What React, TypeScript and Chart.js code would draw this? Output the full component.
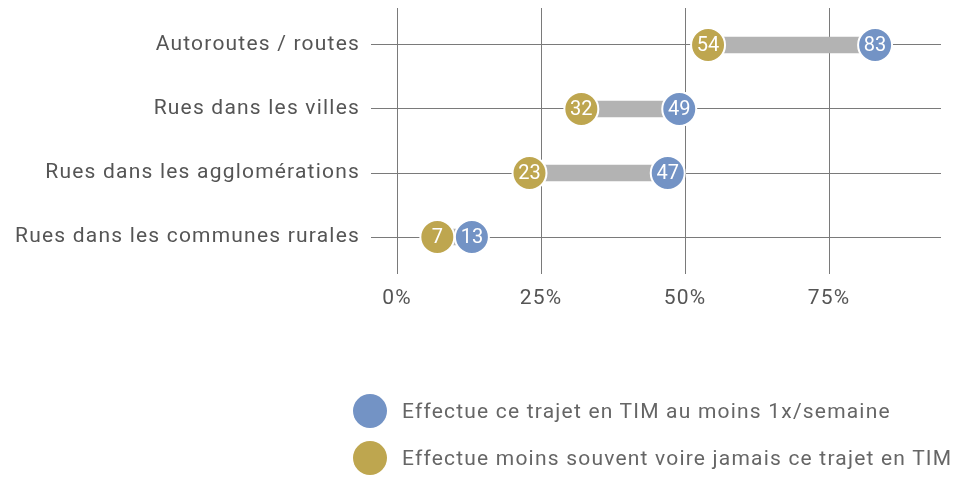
import React, { useEffect, useRef } from "react";
import { Chart, registerables } from "chart.js";

Chart.register(...registerables);

const categories = [
  "Autoroutes / routes",
  "Rues dans les villes",
  "Rues dans les agglomérations",
  "Rues dans les communes rurales",
];
const weeklyValues = [83, 49, 47, 13];
const rarelyValues = [54, 32, 23, 7];
const xTicks = [0, 25, 50, 75];
const legendLabels = [
  "Effectue ce trajet en TIM au moins 1x/semaine",
  "Effectue moins souvent voire jamais ce trajet en TIM",
];

const BLUE = "#7393C5";
const GOLD = "#BEA64F";
const BAR = "#B3B3B3";
const GRID = "#7a7a7a";
const TEXT = "#555555";
const FONT = "Roboto, 'Liberation Sans', sans-serif";
const FONT_SIZE = 21;
const SPACING = "1.2px";

const valueLabels = {
  id: "valueLabels",
  afterDatasetsDraw(chart: any) {
    const ctx = chart.ctx;
    ctx.save();
    ctx.font = `20px ${FONT}`;
    (ctx as any).letterSpacing = "0px";
    ctx.fillStyle = "#ffffff";
    ctx.textAlign = "center";
    ctx.textBaseline = "middle";
    chart.data.datasets.forEach((ds: any, i: number) => {
      if (ds.type !== "scatter") return;
      const meta = chart.getDatasetMeta(i);
      meta.data.forEach((el: any, j: number) => {
        ctx.fillText(String(ds.data[j].x), el.x, el.y + 1);
      });
    });
    ctx.restore();
  },
};

const spacingPlugin = {
  id: "spacing",
  beforeInit(chart: any) {
    (chart.ctx as any).letterSpacing = SPACING;
  },
  beforeLayout(chart: any) {
    (chart.ctx as any).letterSpacing = SPACING;
  },
  beforeDraw(chart: any) {
    (chart.ctx as any).letterSpacing = SPACING;
  },
};

export default function App() {
  const ref = useRef<HTMLCanvasElement>(null);
  useEffect(() => {
    document.body.style.margin = "0";
    const chart = new Chart(ref.current!, {
      type: "bar",
      data: {
        datasets: [
          {
            type: "bar",
            label: "range",
            indexAxis: "y",
            data: categories.map((_, i) => ({
              y: i,
              x: [rarelyValues[i], weeklyValues[i]],
            })) as any,
            backgroundColor: BAR,
            barThickness: 16,
            order: 3,
          } as any,
          {
            type: "scatter",
            label: legendLabels[0],
            data: categories.map((_, i) => ({ x: weeklyValues[i], y: i })),
            backgroundColor: BLUE,
            borderColor: "#ffffff",
            borderWidth: 2,
            pointRadius: 17,
            pointHoverRadius: 17,
            order: 1,
          } as any,
          {
            type: "scatter",
            label: legendLabels[1],
            data: categories.map((_, i) => ({ x: rarelyValues[i], y: i })),
            backgroundColor: GOLD,
            borderColor: "#ffffff",
            borderWidth: 2,
            pointRadius: 17,
            pointHoverRadius: 17,
            order: 2,
          } as any,
        ],
      },
      options: {
        animation: false,
        responsive: true,
        maintainAspectRatio: false,
        layout: { autoPadding: false, padding: { top: 8, right: 17, left: 0, bottom: 0 } },
        plugins: {
          legend: { display: false },
          tooltip: { enabled: false },
        },
        scales: {
          x: {
            type: "linear",
            offset: false,
            min: 0,
            max: 94.44,
            afterBuildTicks: (s: any) => {
              s.ticks = xTicks.map((v) => ({ value: v }));
            },
            afterFit: (s: any) => {
              s.height = 204;
              s.paddingLeft = 0;
              s.paddingRight = 0;
            },
            grid: { color: GRID, drawTicks: false, lineWidth: 1, offset: false },
            border: { display: false },
            ticks: {
              padding: 12,
              color: TEXT,
              font: { family: FONT, size: FONT_SIZE },
              callback: (v: any) => `${v}%`,
            },
          },
          y: {
            type: "linear",
            offset: false,
            reverse: true,
            min: -0.578,
            max: 3.578,
            afterBuildTicks: (s: any) => {
              s.ticks = categories.map((_, i) => ({ value: i }));
            },
            afterFit: (s: any) => {
              s.width = 397;
              s.paddingTop = 0;
              s.paddingBottom = 0;
            },
            grid: { color: GRID, drawTicks: true, tickLength: 26, lineWidth: 1, offset: false },
            border: { display: false },
            ticks: {
              padding: 11,
              color: TEXT,
              font: { family: FONT, size: FONT_SIZE },
              callback: (v: any) => categories[v] ?? "",
            },
          },
        },
      },
      plugins: [spacingPlugin, valueLabels],
    });
    return () => chart.destroy();
  }, []);

  const legendColors = [BLUE, GOLD];
  const legendY = [411, 458];

  return (
    <div style={{ position: "absolute", left: 0, top: 0, width: 958, height: 478 }}>
      <canvas ref={ref} />
      {legendLabels.map((lbl, i) => (
        <div key={i}>
          <div
            style={{
              position: "absolute",
              left: 353,
              top: legendY[i] - 17,
              width: 34,
              height: 34,
              borderRadius: "50%",
              background: legendColors[i],
            }}
          />
          <div
            style={{
              position: "absolute",
              left: 402,
              top: legendY[i] - 14,
              height: 28,
              lineHeight: "28px",
              fontFamily: FONT,
              fontSize: FONT_SIZE,
              letterSpacing: SPACING,
              color: "#666666",
              whiteSpace: "nowrap",
            }}
          >
            {lbl}
          </div>
        </div>
      ))}
    </div>
  );
}
